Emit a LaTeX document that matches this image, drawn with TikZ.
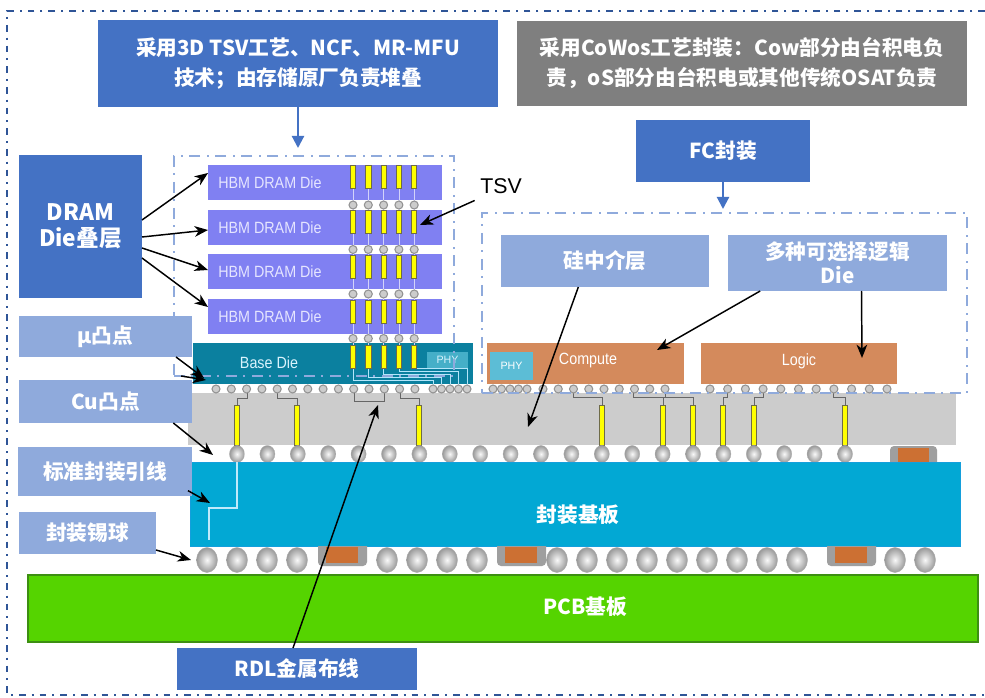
\documentclass[tikz,border=0pt]{standalone}
\usepackage{fontspec}
\setmainfont{Liberation Sans}
\newfontfamily\cjk{Noto Sans CJK SC}
\newfontfamily\narrowsans{Liberation Sans}[FakeStretch=0.88]
\usetikzlibrary{arrows.meta,calc}

\definecolor{boxblue}{HTML}{4472C4}
\definecolor{lblue}{HTML}{8FAADC}
\definecolor{boxgray}{HTML}{7F7F7F}
\definecolor{frameblue}{HTML}{2F5597}
\definecolor{hbm}{HTML}{8080F2}
\definecolor{basedie}{HTML}{0B809F}
\definecolor{phyteal}{HTML}{45AFC8}
\definecolor{phycyan}{HTML}{5CBDD6}
\definecolor{sigray}{HTML}{CCCCCC}
\definecolor{subst}{HTML}{02A8D4}
\definecolor{pcb}{HTML}{55D400}
\definecolor{pcbedge}{HTML}{3D8F12}
\definecolor{chipor}{HTML}{D48A5C}
\definecolor{capor}{HTML}{CC7033}
\definecolor{tsvy}{HTML}{FFFF00}

% box from pixel corners: name, style, x1, y1, x2, y2, text
\newcommand\boxat[7]{\node[#2,minimum width={(#5-(#3))*0.75pt},minimum height={(#6-(#4))*0.75pt}] (#1) at ({(#3+#5)/2},{(#4+#6)/2}) {#7};}

\begin{document}
\begin{tikzpicture}[x=0.75pt,y=-0.75pt,
  lbl/.style={inner sep=0pt, outer sep=0pt, text=white, font=\cjk\bfseries\fontsize{15.5}{22.5}\selectfont, align=center},
  bluebox/.style={lbl, fill=boxblue},
  lightbox/.style={lbl, fill=lblue},
  graybox/.style={lbl, fill=boxgray},
  frame/.style={draw=lblue, line width=1.5pt, dash pattern=on 8pt off 5pt on 1.5pt off 5pt, inner sep=0pt, outer sep=0pt},
  ptr/.style={draw=black, line width=1.1pt, -{Stealth[length=10pt,width=8pt,inset=3pt]}},
  bluearr/.style={draw=boxblue, line width=1.6pt, -{Triangle[length=9pt,width=9pt]}},
  plain/.style={inner sep=0pt, outer sep=0pt},
  chiptext/.style={inner sep=0pt, font=\narrowsans\fontsize{12.2}{13}\selectfont, text=white!90!blue},
  rod/.style={fill=tsvy, draw=yellow!35!black, line width=0.5pt},
  ubump/.style={fill=gray!40, draw=gray!85, line width=0.8pt},
  ball/.style={shading=radial, inner color=white!95!gray, outer color=gray!80, draw=gray!65, line width=0.3pt},
  wire/.style={draw=gray!80!black, line width=0.7pt},
  capbody/.style={fill=gray!75, rounded corners=3pt},
]
\useasboundingbox (0,0) rectangle (985,698);
\fill[white] (0,0) rectangle (985,698);

% outer dash-dot frame
\draw[frameblue, line width=1.5pt, dash pattern=on 5pt off 4.5pt on 1.5pt off 4.5pt]
  (985,11) -- (7,11) -- (7,695) -- (985,695);

% ---------- HBM stack ----------
\foreach \t [count=\i] in {165,210,254,299}{
  \boxat{die\i}{plain,fill=hbm}{208}{\t}{442}{\t+35}{}
  \node[chiptext, anchor=west] (dietext\i) at ([xshift=7.5pt]die\i.west) {HBM DRAM Die};
}
\boxat{base}{plain,fill=basedie}{193}{343}{473}{384}{}
\node[chiptext, text=cyan!15!white] (basetext) at (269,363) {Base Die};
\boxat{phyA}{plain,fill=phyteal,font=\fontsize{8}{9}\selectfont,text=white!85!cyan}{427}{352}{468}{368}{PHY}

% vertical TSV links through the stack
\foreach \c in {0,...,4}{
  \pgfmathsetmacro\xx{353+15.3*\c}
  \draw[color=hbm!35!white, line width=0.6pt] (\xx,165) -- (\xx,368);
}
% routing in the base die towards the PHY bumps
\foreach \c/\cx in {0/433,1/441.5,2/450,3/458.5,4/467}{
  \pgfmathsetmacro\xx{353+15.3*\c}
  \pgfmathsetmacro\yy{380-3*\c}
  \draw[color=cyan!30!white, line width=0.6pt] (\xx,368) -- (\xx,\yy) -- (\cx,\yy) -- (\cx,385);
}
\foreach \t in {165,210,255,300,345}{
  \foreach \c in {0,...,4}{
    \pgfmathsetmacro\xx{353+15.3*\c}
    \filldraw[rod] (\xx-2.6,\t) rectangle (\xx+2.6,\t+23);
  }
}
\foreach \y in {205,249.5,294,338.5}{
  \foreach \c in {0,...,4}{
    \pgfmathsetmacro\xx{353+15.3*\c}
    \filldraw[ubump] (\xx,\y) circle[radius=4];
  }
}

% ---------- logic dies ----------
\boxat{compute}{plain,fill=chipor}{487}{343}{684}{384}{}
\node[chiptext, text=white] (computetext) at (588,361) {Compute};
\boxat{phyB}{plain,fill=phycyan,font=\fontsize{8}{9}\selectfont,text=white}{490}{352}{533}{380}{PHY}
\boxat{logic}{plain,fill=chipor}{701}{343}{897}{384}{}
\node[chiptext, text=white] (logictext) at (799,361) {Logic};

% ---------- interposer ----------
\fill[sigray] (188,393) rectangle (956,445);
% RDL wiring
\draw[wire] (247,393) -- (247,398) -- (237,398) -- (237,405);
\draw[wire] (277,393) -- (277,398) -- (297,398) -- (297,405);
\draw[wire] (354,393) -- (354,401) -- (384,401) -- (384,393);
\draw[wire] (400,393) -- (400,398) -- (419,398) -- (419,405);
\draw[wire] (573,393) -- (573,397) -- (602,397) -- (602,405);
\draw[wire] (633,393) -- (633,397) -- (693,397) -- (693,405);
\draw[wire] (665,393) -- (665,397) -- (663,397) -- (663,405);
\draw[wire] (727,393) -- (727,397) -- (723,397) -- (723,405);
\draw[wire] (763,393) -- (763,397) -- (754,397) -- (754,405);
\draw[wire] (833,393) -- (833,397) -- (845,397) -- (845,405);
% through-silicon vias
\foreach \x in {237,297,419,602,663,693,723,754,845}{
  \filldraw[rod] (\x-2.6,405) rectangle (\x+2.6,445);
}
% micro bumps
\foreach \k in {0,...,13}{ \filldraw[ubump] ({216+15.3*\k},389) circle[radius=4]; }
\foreach \x in {433,441.5,450,458.5,467,493,501.5,510,518.5,527}{ \filldraw[ubump] (\x,389) circle[radius=4]; }
\foreach \k in {0,...,8}{ \filldraw[ubump] ({543+15.25*\k},389) circle[radius=4]; }
\foreach \k in {0,...,10}{ \filldraw[ubump] ({710+17.7*\k},389) circle[radius=4]; }

% C4 bumps
\foreach \k in {0,...,20}{ \path[ball] ({237+30.4*\k},454) ellipse[x radius=7.5, y radius=8.5]; }
% capacitor on substrate
\fill[capbody] (890,446) rectangle (937,466);
\fill[capor] (898,448) rectangle (929,463);

% ---------- package substrate ----------
\boxat{substrate}{lbl,fill=subst,draw=cyan!60!subst,line width=0.5pt}{190}{462}{960}{546}{}
\node[lbl] (substext) at (578,515) {封装基板};
\draw[color=cyan!25!white, line width=0.8pt] (237,462) -- (237,508) -- (209,508) -- (209,546);

% BGA balls and capacitors
\foreach \x in {318,497,827}{
  \fill[capbody] (\x,542) rectangle (\x+49,566);
  \fill[capor] (\x+8,547) rectangle (\x+40,563);
}
\fill[subst] (190,540) rectangle (960,546);
\foreach \x in {207,237,267,297,387,417,447,477,557,587,617,647,677,707,737,767,797,895,925}{
  \path[ball] (\x,560) ellipse[x radius=10.5, y radius=12.5];
}

% ---------- PCB ----------
\boxat{pcbboard}{lbl,fill=pcb,draw=pcbedge,line width=1.5pt}{28}{575}{978}{642}{}
\node[lbl] (pcbtext) at (585,607) {PCB基板};

% ---------- dash-dot group frames ----------
\boxat{hbmframe}{frame}{174}{156}{454}{376}{}
\boxat{fcframe}{frame}{482}{213}{967}{393}{}

% ---------- labels ----------
\boxat{hbmnote}{bluebox}{98}{20}{498}{107}{采用3D TSV工艺、NCF、MR-MFU\\技术；由存储原厂负责堆叠}
\boxat{cowosnote}{graybox}{517}{21}{967}{106}{采用CoWos工艺封装：Cow部分由台积电负\\责，oS部分由台积电或其他传统OSAT负责}
\boxat{fcnote}{bluebox}{636}{120}{810}{182}{FC封装}
\boxat{dram}{bluebox,font=\cjk\bfseries\fontsize{17}{19.5}\selectfont}{19}{155}{142}{298}{DRAM\\Die叠层}
\boxat{ubumpl}{lightbox}{19}{316}{192}{357}{μ凸点}
\boxat{cubumpl}{lightbox}{19}{380}{192}{423}{Cu凸点}
\boxat{tracel}{lightbox}{18}{447}{192}{496}{标准封装引线}
\boxat{balll}{lightbox}{19}{512}{156}{554}{封装锡球}
\boxat{sil}{lightbox}{501}{235}{709}{287}{硅中介层}
\boxat{logicl}{lightbox,font=\cjk\bfseries\fontsize{15.5}{18}\selectfont}{728}{235}{947}{291}{多种可选择逻辑\\Die}
\boxat{rdl}{bluebox}{177}{648}{417}{690}{RDL金属布线}
\node[inner sep=0pt, font=\fontsize{16}{18}\selectfont] (tsvl) at (501,186) {TSV};

% ---------- connectors ----------
\draw[bluearr] (hbmnote.south) -- ([yshift=6pt]hbmnote.south |- hbmframe.north);
\draw[bluearr] (fcnote.south) -- ([yshift=3pt]fcnote.south |- fcframe.north);

\coordinate (d1) at (208,173);
\coordinate (d2) at (208,230);
\coordinate (d3) at (208,270);
\coordinate (d4) at (208,307);
\draw[ptr] ([yshift=-48.75pt]dram.north east) -- (d1);
\draw[ptr] ([yshift=-61.5pt]dram.north east) -- (d2);
\draw[ptr] ([yshift=-69.75pt]dram.north east) -- (d3);
\draw[ptr] ([yshift=-77.25pt]dram.north east) -- (d4);

\coordinate (ubtip) at (204,378);
\coordinate (ubtipb) at (206,380);
\coordinate (ubstart) at (181,376);
\draw[ptr] ([xshift=-12pt]ubumpl.south east) -- (ubtip);
\draw[ptr] (ubstart) -- (ubtipb);
\coordinate (cutip) at (213,455);
\draw[ptr] ([xshift=-14pt]cubumpl.south east) -- (cutip);
\coordinate (trtip) at (210,503);
\draw[ptr] ([xshift=-3pt,yshift=4pt]tracel.south east) -- (trtip);
\coordinate (batip) at (191,560);
\draw[ptr] ([yshift=3pt]balll.south east) -- (batip);

\coordinate (tsvtip) at (420,225);
\draw[ptr] ([xshift=-4pt,yshift=-5pt]tsvl.south west) -- (tsvtip);
\coordinate (sitip) at (528,427);
\draw[ptr] ([xshift=-20pt]sil.south) -- (sitip);
\coordinate (cmptip) at (657,350);
\coordinate (lgctip) at (862,358);
\draw[ptr] ([xshift=-58pt]logicl.south) -- (cmptip);
\draw[ptr] ([xshift=18pt]logicl.south) -- (lgctip);
\coordinate (rdltip) at (378,405);
\draw[ptr] ([xshift=-3pt]rdl.north) -- (rdltip);
\end{tikzpicture}
\end{document}
